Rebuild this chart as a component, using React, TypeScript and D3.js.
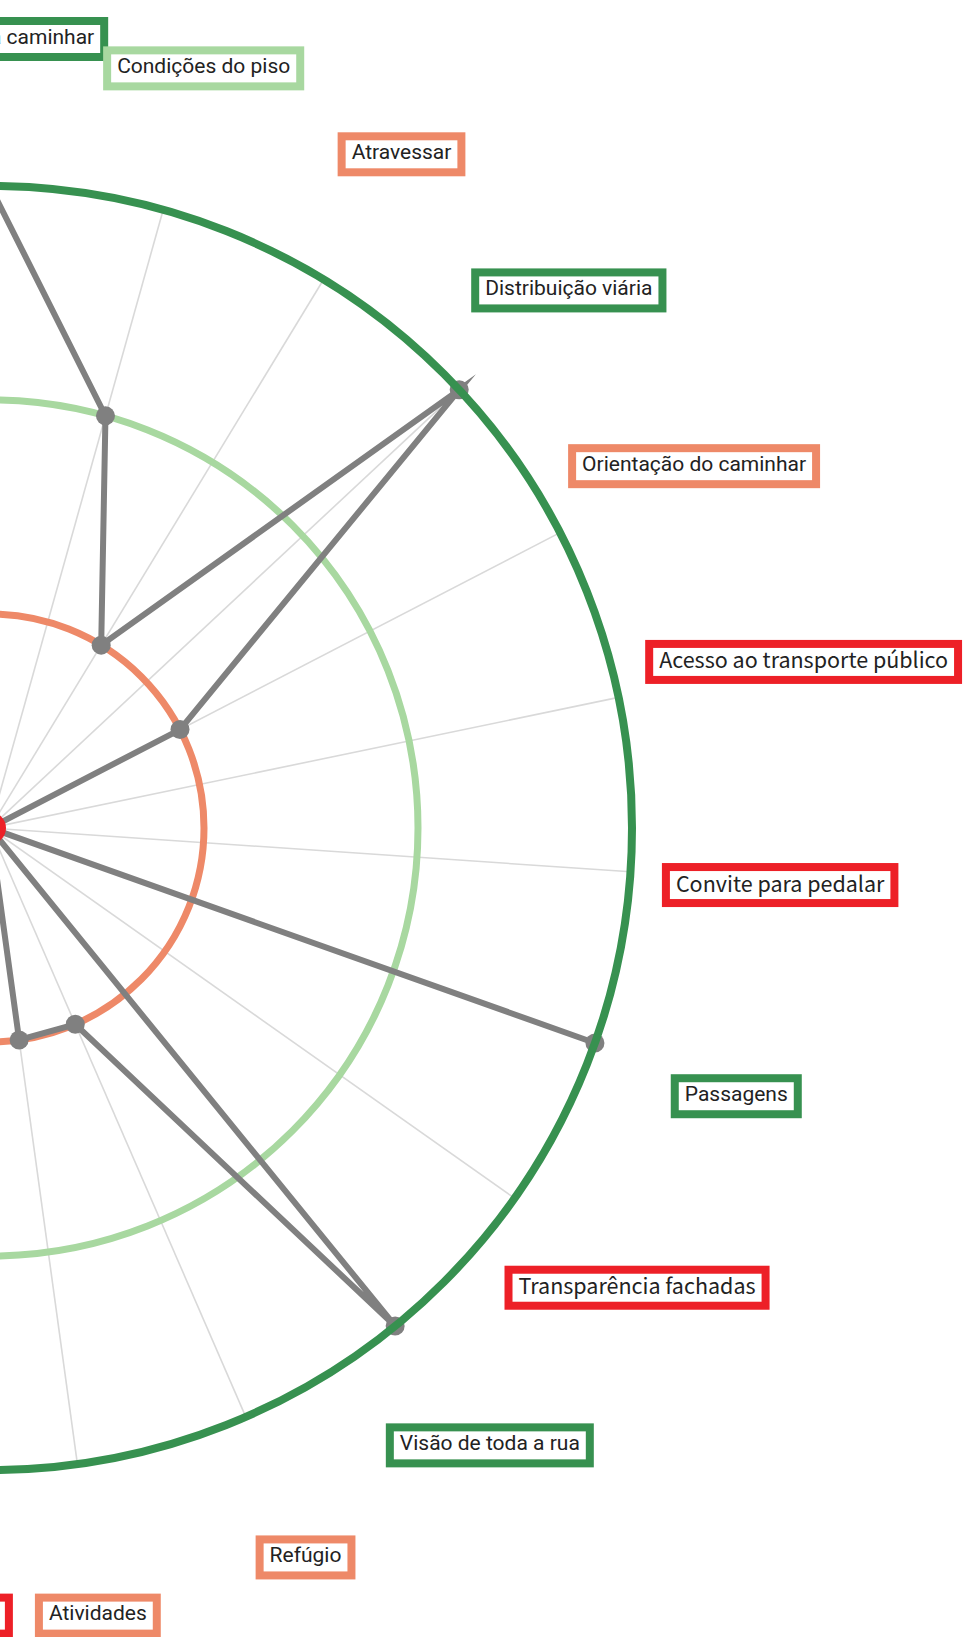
import React, { useMemo } from "react";
import * as d3 from "d3";

// Canvas and radar geometry
const WIDTH = 964;
const HEIGHT = 1637;
const CX = -10;
const CY = 828;
const OUTER_R = 642;
const LABEL_R = 792;
const LABEL_DY = 3;

// Street audit criteria, clockwise from the top
const criteria = [
  "Espaço para caminhar",
  "Condições do piso",
  "Atravessar",
  "Distribuição viária",
  "Orientação do caminhar",
  "Acesso ao transporte público",
  "Convite para pedalar",
  "Passagens",
  "Transparência fachadas",
  "Visão de toda a rua",
  "Refúgio",
  "Atividades",
  "Sensação de segurança",
  "Iluminação",
  "Sombra e abrigo",
  "Limpeza",
  "Ruído",
  "Largura da calçada",
  "Rampas",
  "Sinalização",
  "Velocidade dos carros",
  "Arborização",
  "Mobiliário urbano",
];

// Score of each criterion (0 = ruim ... 3 = ótimo)
const scores = [3, 2, 1, 3, 1, 0, 0, 3, 0, 3, 1, 1, 0, 2, 1, 3, 0, 2, 1, 3, 1, 2, 1];

const scoreLevels = [0, 1, 2, 3];
const levelColors = ["#ed2027", "#ee8968", "#a8d8a0", "#379150"];

const ROBOTO = "Roboto, sans-serif";
const NOTO = "'Noto Sans CJK SC', 'Noto Sans', sans-serif";

let measureCtx: CanvasRenderingContext2D | null = null;
function textWidth(text: string, font: string): number {
  if (!measureCtx) measureCtx = document.createElement("canvas").getContext("2d");
  if (!measureCtx) return text.length * 10;
  measureCtx.font = font;
  return measureCtx.measureText(text).width;
}

export default function App() {
  const angle = d3.scaleLinear().domain([0, criteria.length]).range([0, 2 * Math.PI]);
  const radius = d3.scaleLinear().domain([0, 3]).range([0, OUTER_R]);
  const color = d3.scaleOrdinal<number, string>().domain(scoreLevels).range(levelColors);

  const path = d3
    .lineRadial<number>()
    .angle((_, i) => angle(i))
    .radius((d) => radius(d))
    .curve(d3.curveLinearClosed)(scores) as string;

  const labels = useMemo(() => {
    const boxH = 36;
    const stroke = 8;
    const pad = 10;
    const gap = 24;
    return criteria.map((name, i) => {
      const s = scores[i];
      const isLow = s === 0;
      const size = isLow ? 21.5 : 21;
      const family = isLow ? NOTO : ROBOTO;
      const tw = textWidth(name, `${size}px ${family}`);
      const w = tw + 2 * pad;
      const a = angle(i);
      const ux = Math.sin(a);
      const uy = -Math.cos(a);
      let x = LABEL_R * ux;
      let y = LABEL_R * uy + LABEL_DY;
      // keep every box clear of the outer ring
      const nearest = (px: number, py: number) => {
        const hw = w / 2 + stroke / 2;
        const hh = boxH / 2 + stroke / 2;
        const dx = Math.max(px - hw, 0, -(px + hw));
        const dy = Math.max(py - hh, 0, -(py + hh));
        return Math.hypot(dx, dy);
      };
      let guard = 0;
      while (nearest(x, y) < OUTER_R + stroke / 2 + gap && guard < 400) {
        x += ux;
        y += uy;
        guard++;
      }
      return { name, s, size, family, w, h: boxH, x, y, isLow };
    });
  }, []);

  return (
    <svg
      width={WIDTH}
      height={HEIGHT}
      viewBox={`0 0 ${WIDTH} ${HEIGHT}`}
      style={{ position: "absolute", left: 0, top: 0, display: "block", background: "#fff" }}
    >
      <g transform={`translate(${CX},${CY})`}>
        {/* spokes */}
        {criteria.map((c, i) => {
          const a = angle(i);
          return (
            <line
              key={`spoke-${c}`}
              x1={0}
              y1={0}
              x2={OUTER_R * Math.sin(a)}
              y2={-OUTER_R * Math.cos(a)}
              stroke="#d9d9d9"
              strokeWidth={1.6}
            />
          );
        })}

        {/* inner score rings */}
        {[1, 2].map((lvl) => (
          <circle
            key={`ring-${lvl}`}
            r={radius(lvl)}
            fill="none"
            stroke={color(lvl)}
            strokeWidth={7}
          />
        ))}

        {/* score polygon */}
        <path
          d={path}
          fill="none"
          stroke="#808080"
          strokeWidth={6}
          strokeLinejoin="miter"
          strokeMiterlimit={10}
        />
        {scores.map((s, i) => {
          const a = angle(i);
          return (
            <circle
              key={`pt-${i}`}
              cx={radius(s) * Math.sin(a)}
              cy={-radius(s) * Math.cos(a)}
              r={9.5}
              fill="#808080"
            />
          );
        })}

        {/* outer ring */}
        <circle r={radius(3)} fill="none" stroke={color(3)} strokeWidth={8} />

        {/* centre marker for score 0 */}
        <circle r={16} fill={color(0)} />

        {/* criterion labels */}
        {labels.map((l) => (
          <g key={`label-${l.name}`} transform={`translate(${l.x},${l.y})`}>
            <rect
              x={-l.w / 2}
              y={-l.h / 2}
              width={l.w}
              height={l.h}
              fill="#fff"
              stroke={color(l.s)}
              strokeWidth={8}
            />
            <text
              x={0}
              y={l.isLow ? 6.5 : 4.5}
              textAnchor="middle"
              fontFamily={l.family}
              fontSize={l.size}
              fill="#222"
            >
              {l.name}
            </text>
          </g>
        ))}
      </g>
    </svg>
  );
}
